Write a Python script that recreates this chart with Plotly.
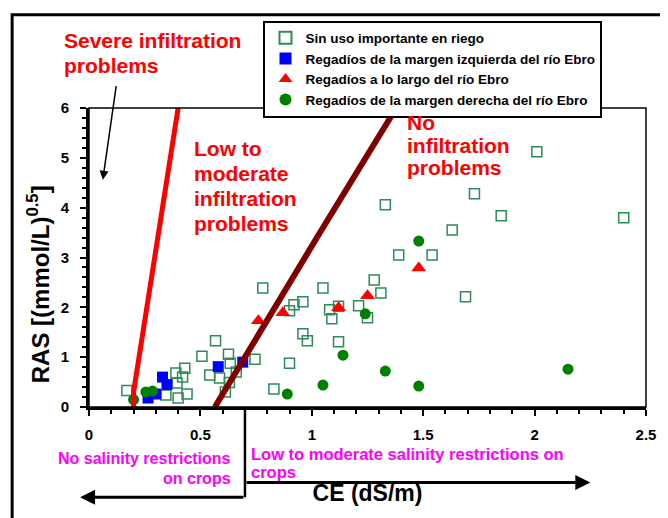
import plotly.graph_objects as go

# ---------------- data ----------------
sin_uso_ce = [2.01, 1.73, 1.85, 2.40, 1.33, 1.63, 1.39, 1.54, 1.69, 1.28, 1.31, 1.05,
              1.21, 1.25, 1.08, 1.09, 1.12, 0.96, 0.98, 0.90, 0.92, 0.96, 0.90, 0.83,
              0.78, 1.12, 0.745, 0.568, 0.507, 0.626, 0.634, 0.542, 0.586, 0.661, 0.612,
              0.63, 0.43, 0.39, 0.42, 0.395, 0.345, 0.40, 0.44, 0.17]
sin_uso_ras = [5.12, 4.28, 3.84, 3.80, 4.06, 3.55, 3.05, 3.05, 2.21, 2.55, 2.29, 2.39,
               2.03, 1.79, 1.95, 1.77, 1.31, 1.47, 1.33, 1.93, 2.05, 2.11, 0.88, 0.36,
               2.39, 2.02, 0.96, 1.33, 1.02, 1.06, 0.88, 0.64, 0.58, 0.70, 0.30,
               0.49, 0.78, 0.68, 0.60, 0.48, 0.24, 0.18, 0.26, 0.33]

izq_ce = [0.265, 0.30, 0.33, 0.35, 0.58, 0.69]
izq_ras = [0.18, 0.26, 0.60, 0.45, 0.81, 0.90]

largo_ce = [0.76, 0.87, 1.12, 1.25, 1.48]
largo_ras = [1.73, 1.89, 1.99, 2.23, 2.79]

der_ce = [0.20, 0.255, 0.285, 0.89, 1.05, 1.14, 1.33, 1.48, 1.24, 1.48, 2.15]
der_ras = [0.15, 0.30, 0.32, 0.26, 0.44, 1.04, 0.72, 0.42, 1.87, 3.33, 0.76]

# infiltration boundary lines
severe_ce = [0.20, 0.20, 0.40]
severe_ras = [0.0, 0.30, 6.0]
none_ce = [0.565, 1.01, 1.03, 1.379]
none_ras = [0.0, 3.33, 3.45, 6.0]

salinity_limit = 0.7

FONT = "Arial, Liberation Sans, sans-serif"
RED = "#FF0000"
MAG = "#FF00FF"

fig = go.Figure()

fig.add_trace(go.Scatter(
    x=sin_uso_ce, y=sin_uso_ras, mode="markers", name="Sin uso importante en riego",
    marker=dict(symbol="square-open", size=10, color="#2E8B57", line=dict(width=1.5))))
fig.add_trace(go.Scatter(
    x=izq_ce, y=izq_ras, mode="markers", name="Regadíos de la margen izquierda del río Ebro",
    marker=dict(symbol="square", size=11, color="#0000FF")))
fig.add_trace(go.Scatter(
    x=largo_ce, y=largo_ras, mode="markers", name="Regadíos a lo largo del río Ebro",
    marker=dict(symbol="triangle-up", size=13, color=RED)))
fig.add_trace(go.Scatter(
    x=der_ce, y=der_ras, mode="markers", name="Regadíos de la margen derecha del río Ebro",
    marker=dict(symbol="circle", size=11, color="#008000")))

fig.add_trace(go.Scatter(x=severe_ce, y=severe_ras, mode="lines", showlegend=False,
                         line=dict(color=RED, width=5), hoverinfo="skip"))
fig.add_trace(go.Scatter(x=none_ce, y=none_ras, mode="lines", showlegend=False,
                         line=dict(color="#800000", width=6), hoverinfo="skip"))

annotations = []


def txt(text, x, y, color, size, xanchor="left", xref="x", yref="y"):
    annotations.append(dict(text=text, x=x, y=y, xref=xref, yref=yref, showarrow=False,
                            xanchor=xanchor, yanchor="middle",
                            font=dict(family=FONT, size=size, color=color, weight="bold")))


# red zone labels
txt("Severe infiltration", -0.048, 1.226, RED, 21, xref="paper", yref="paper")
txt("problems", -0.048, 1.143, RED, 21, xref="paper", yref="paper")
txt("Low to", 0.4626, 5.18, RED, 21)
txt("moderate", 0.4626, 4.68, RED, 21)
txt("infiltration", 0.4626, 4.18, RED, 21)
txt("problems", 0.4626, 3.685, RED, 21)
txt("No", 1.4185, 5.70, RED, 21)
txt("infiltration", 1.4185, 5.24, RED, 21)
txt("problems", 1.4185, 4.80, RED, 21)

# salinity labels
txt("No salinity restrictions", 0.648, -0.173, MAG, 16, xanchor="right", yref="paper")
txt("on crops", 0.648, -0.239, MAG, 16, xanchor="right", yref="paper")
txt("Low to moderate salinity restrictions on", 0.718, -0.156, MAG, 16.5, yref="paper")
txt("crops", 0.718, -0.218, MAG, 16.5, yref="paper")

# y axis title
annotations.append(dict(text="RAS [(mmol/L)<sup>0.5</sup>]", x=-0.09, y=0.41,
                        xref="paper", yref="paper", showarrow=False, textangle=-90,
                        xanchor="center", yanchor="middle",
                        font=dict(family=FONT, size=24, color="black", weight="bold")))

# arrows
annotations.append(dict(x=0.062, y=4.56, xref="x", yref="y", ax=0.123, ay=6.47,
                        axref="x", ayref="y", showarrow=True, arrowhead=2, arrowsize=1.2,
                        arrowwidth=1.5, arrowcolor="black", text=""))
annotations.append(dict(x=-0.04, y=-0.302, xref="x", yref="paper", ax=salinity_limit, ay=0,
                        axref="x", ayref="pixel", showarrow=True, arrowhead=2, arrowsize=1,
                        arrowwidth=3, arrowcolor="black", text=""))
annotations.append(dict(x=2.25, y=-0.2525, xref="x", yref="paper", ax=salinity_limit, ay=0,
                        axref="x", ayref="pixel", showarrow=True, arrowhead=2, arrowsize=1,
                        arrowwidth=3, arrowcolor="black", text=""))

shapes = [
    # outer frame
    dict(type="rect", xref="paper", yref="paper", x0=-0.138, x1=1.06, y0=-0.42, y1=1.312,
         line=dict(color="black", width=3)),
    # plot box
    dict(type="rect", xref="paper", yref="paper", x0=0, x1=1, y0=0, y1=1,
         line=dict(color="black", width=1.5)),
    # salinity boundary vertical
    dict(type="line", xref="x", yref="paper", x0=salinity_limit, x1=salinity_limit,
         y0=0, y1=-0.302, line=dict(color="black", width=2.5)),
]

fig.update_layout(
    width=660, height=510,
    margin=dict(l=81, r=14, t=98, b=111),
    paper_bgcolor="white", plot_bgcolor="white",
    font=dict(family=FONT, color="black"),
    showlegend=True,
    legend=dict(x=(266 - 89) / 565, y=(407 - 18) / 301, xanchor="left", yanchor="top",
                bgcolor="white", bordercolor="black", borderwidth=2,
                font=dict(family=FONT, size=13.5, color="black", weight="bold"),
                tracegroupgap=0, itemsizing="constant"),
    annotations=annotations,
    shapes=shapes,
    xaxis=dict(range=[0, 2.5], dtick=0.5, tick0=0, showgrid=False, zeroline=False,
               showline=True, linewidth=3, linecolor="black",
               ticks="outside", ticklen=6, tickwidth=2, tickcolor="black",
               ticklabelstandoff=6,
               tickfont=dict(family=FONT, size=15, color="black", weight="bold"),
               minor=dict(dtick=0.1, ticks="outside", ticklen=4, tickwidth=1.5,
                          tickcolor="black", showgrid=False),
               title=dict(text="CE (dS/m)", standoff=43,
                          font=dict(family=FONT, size=23, color="black", weight="bold"))),
    yaxis=dict(range=[0, 6], dtick=1, tick0=0, showgrid=False, zeroline=False,
               showline=True, linewidth=3, linecolor="black",
               ticks="outside", ticklen=6, tickwidth=2, tickcolor="black",
               ticklabelstandoff=8,
               tickfont=dict(family=FONT, size=15, color="black", weight="bold"),
               minor=dict(dtick=0.2, ticks="outside", ticklen=4, tickwidth=1.5,
                          tickcolor="black", showgrid=False)),
)

fig.write_html("out.html")
